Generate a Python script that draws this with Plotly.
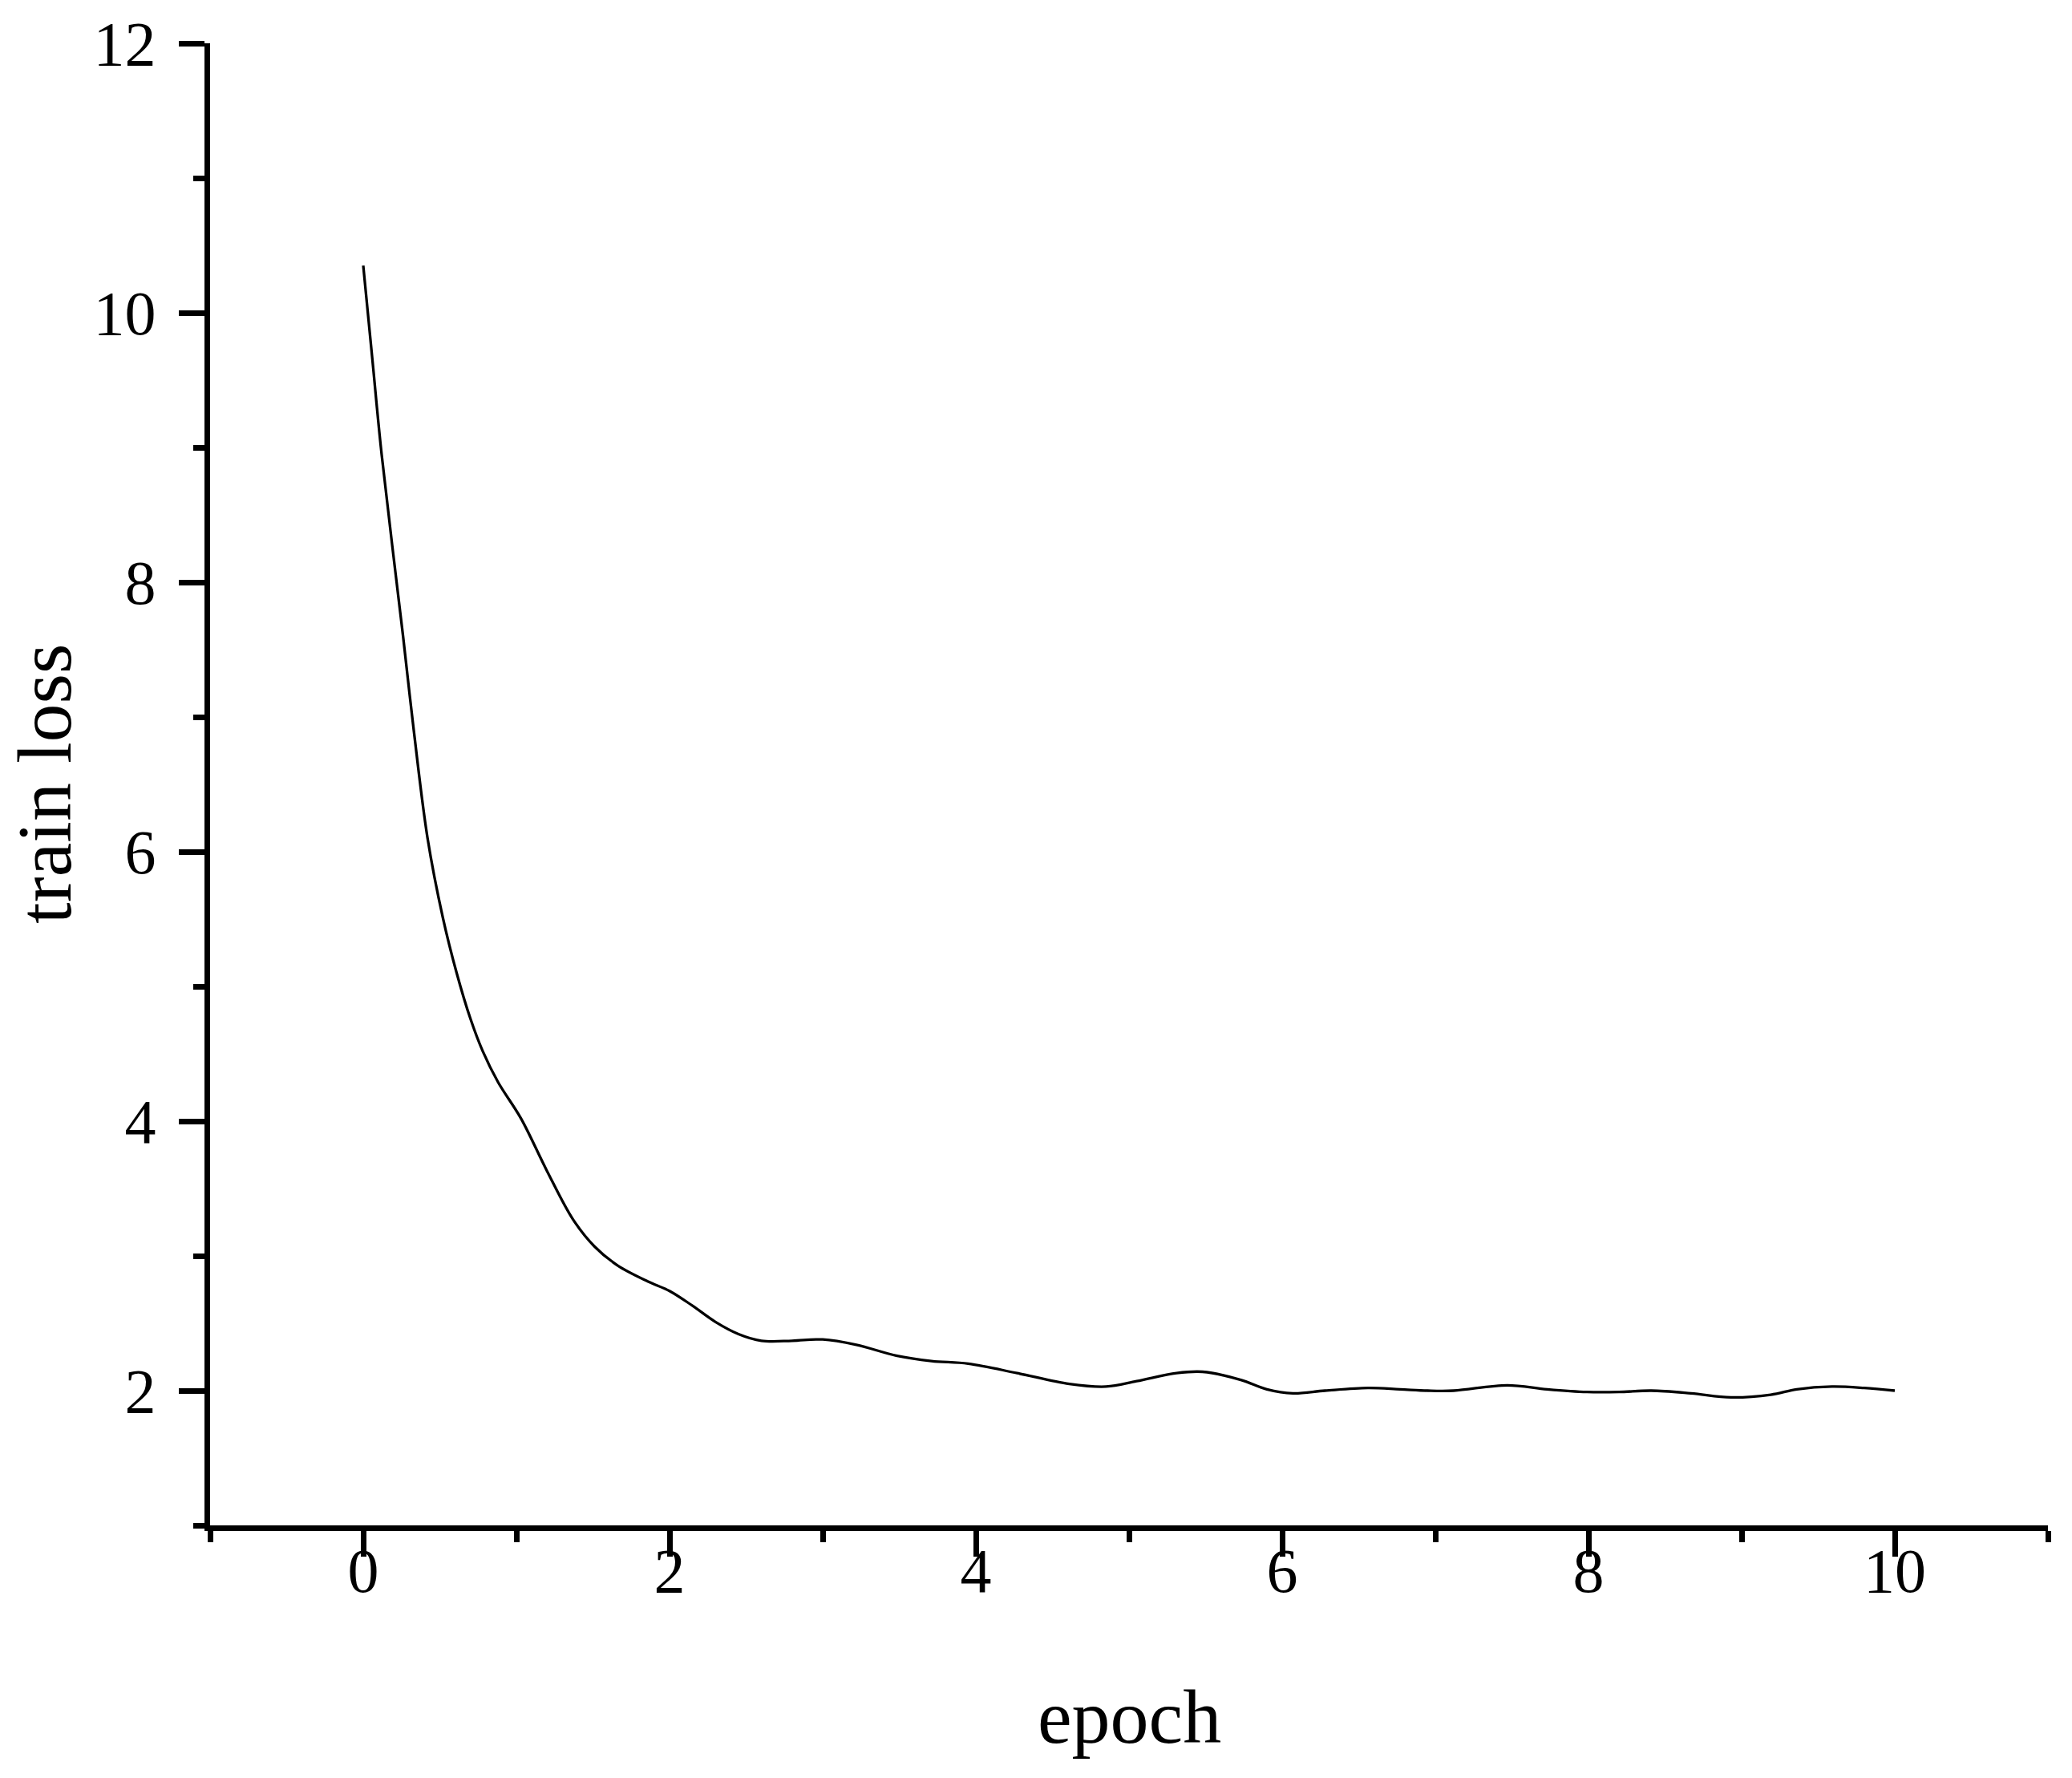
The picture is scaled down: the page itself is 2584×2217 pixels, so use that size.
import plotly.graph_objects as go

epochs = [0, 0.06, 0.12, 0.26, 0.33, 0.42, 0.52, 0.61, 0.70, 0.78, 0.88, 1.03, 1.20, 1.37, 1.51,
          1.66, 1.86, 2.0, 2.15, 2.3, 2.45, 2.6, 2.8, 3.0, 3.22, 3.48, 3.71, 3.95, 4.27,
          4.61, 4.85, 5.05, 5.31, 5.48, 5.73, 5.90, 6.07, 6.28, 6.56, 6.77, 6.95, 7.12,
          7.47, 7.73, 7.99, 8.2, 8.41, 8.67, 8.93, 9.19, 9.36, 9.59, 9.80, 10.0]
train_loss = [10.35, 9.65, 8.95, 7.60, 6.90, 6.10, 5.51, 5.10, 4.76, 4.52, 4.29, 4.02, 3.63, 3.27, 3.07,
              2.93, 2.81, 2.74, 2.63, 2.51, 2.42, 2.37, 2.37, 2.38, 2.34, 2.26, 2.22, 2.20, 2.13,
              2.05, 2.03, 2.07, 2.13, 2.14, 2.08, 2.01, 1.98, 2.00, 2.02, 2.01, 2.00, 2.00,
              2.04, 2.01, 1.99, 1.99, 2.00, 1.98, 1.95, 1.97, 2.01, 2.03, 2.02, 2.00]

x_tickvals = [0, 2, 4, 6, 8, 10]
y_tickvals = [2, 4, 6, 8, 10, 12]
x_title = "epoch"
y_title = "train loss"

FONT = "Liberation Serif, Times New Roman, serif"

fig = go.Figure()
fig.add_trace(go.Scatter(x=epochs, y=train_loss, mode="lines",
                         line=dict(color="black", width=3.3, shape="spline", smoothing=1.0),
                         showlegend=False, hoverinfo="skip"))

axis_common = dict(showline=True, linecolor="black", linewidth=7, showgrid=False, zeroline=False,
                   automargin=False,
                   ticks="outside", ticklen=32, tickwidth=7, tickcolor="black",
                   tickfont=dict(family=FONT, size=78, color="black"),
                   minor=dict(ticks="outside", ticklen=14, tickwidth=7, tickcolor="black",
                              dtick=1, tick0=1, showgrid=False))

fig.update_xaxes(range=[-1, 11], tickmode="array", tickvals=x_tickvals,
                 ticktext=[str(v) for v in x_tickvals], ticklabelstandoff=-50, **axis_common)
fig.update_yaxes(range=[1, 12], tickmode="array", tickvals=y_tickvals,
                 ticktext=[str(v) for v in y_tickvals], ticklabelstandoff=13, **axis_common)

fig.add_annotation(text=x_title, xref="paper", yref="paper", x=0.5, y=0,
                   xanchor="center", yanchor="middle", yshift=-238, showarrow=False,
                   borderpad=0, font=dict(family=FONT, size=96, color="black"))
fig.add_annotation(text=y_title, xref="paper", yref="paper", x=0, y=0.5, textangle=-90,
                   xanchor="center", yanchor="middle", xshift=-207, showarrow=False,
                   borderpad=0, font=dict(family=FONT, size=96, color="black"))

# the page body has an 8px default margin, so the margins compensate for it
fig.update_layout(width=2584, height=2217, margin=dict(l=254, r=38, t=46, b=323),
                  plot_bgcolor="white", paper_bgcolor="white")

fig.write_html("out.html")
